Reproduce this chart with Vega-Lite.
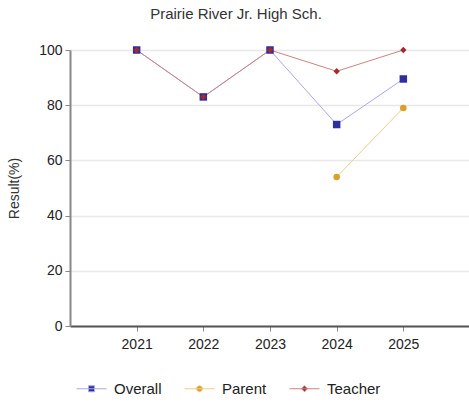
{
  "$schema": "https://vega.github.io/schema/vega-lite/v6.json",
  "width": 400,
  "height": 276,
  "autosize": "none",
  "padding": {"left": 70, "top": 50, "right": 0, "bottom": 76},
  "background": "white",
  "config": {
    "font": "Liberation Sans",
    "view": {"stroke": null}
  },
  "title": {
    "text": "Prairie River Jr. High Sch.",
    "fontSize": 15,
    "fontWeight": "normal",
    "color": "#333333",
    "anchor": "middle",
    "dx": -34,
    "offset": 21
  },
  "data": {
    "values": [
      {"year": 2021, "series": "Overall", "value": 100},
      {"year": 2022, "series": "Overall", "value": 83},
      {"year": 2023, "series": "Overall", "value": 100},
      {"year": 2024, "series": "Overall", "value": 73},
      {"year": 2025, "series": "Overall", "value": 89.5},
      {"year": 2024, "series": "Parent", "value": 54},
      {"year": 2025, "series": "Parent", "value": 79},
      {"year": 2021, "series": "Teacher", "value": 100},
      {"year": 2022, "series": "Teacher", "value": 83},
      {"year": 2023, "series": "Teacher", "value": 100},
      {"year": 2024, "series": "Teacher", "value": 92.3},
      {"year": 2025, "series": "Teacher", "value": 100}
    ]
  },
  "encoding": {
    "x": {
      "field": "year",
      "type": "quantitative",
      "scale": {"domain": [2020, 2026], "nice": false, "zero": false},
      "axis": {
        "values": [2021, 2022, 2023, 2024, 2025],
        "format": "d",
        "title": null,
        "grid": false,
        "domainColor": "#555555",
        "domainWidth": 2,
        "tickColor": "#888888",
        "tickSize": 5,
        "labelFontSize": 14,
        "labelColor": "#222222",
        "labelPadding": 6
      }
    },
    "y": {
      "field": "value",
      "type": "quantitative",
      "scale": {"domain": [0, 100], "nice": false},
      "axis": {
        "values": [0, 20, 40, 60, 80, 100],
        "title": "Result(%)",
        "titleFontSize": 14,
        "titleFontWeight": "normal",
        "titleColor": "#333333",
        "titlePadding": 17,
        "grid": true,
        "gridColor": "#e8e8e8",
        "gridWidth": 1.5,
        "domainColor": "#888888",
        "domainWidth": 2,
        "tickColor": "#888888",
        "tickSize": 5,
        "labelFontSize": 14,
        "labelColor": "#222222",
        "labelPadding": 3
      }
    }
  },
  "layer": [
    {
      "mark": {"type": "line", "strokeWidth": 1},
      "encoding": {
        "stroke": {
          "field": "series",
          "type": "nominal",
          "scale": {
            "domain": ["Overall", "Parent", "Teacher"],
            "range": ["#a8a8e6", "#f0cc88", "#c98585"]
          },
          "legend": {
            "title": null,
            "orient": "none",
            "legendX": 6,
            "legendY": 323,
            "direction": "horizontal",
            "columnPadding": 20,
            "labelOffset": 7,
            "labelFontSize": 15,
            "labelColor": "#222222",
            "symbolSize": 900,
            "symbolType": "M-1,0H1M-0.2,-0.2H0.2V0.2H-0.2Z",
            "symbolStrokeWidth": 1,
            "encode": {
              "symbols": {
                "update": {
                  "shape": {"signal": "datum.value === 'Overall' ? 'M-1,0H1M-0.2,-0.2H0.2V0.2H-0.2Z' : datum.value === 'Parent' ? 'M-1,0H1M0.2,0A0.2,0.2,0,1,1,-0.2,0A0.2,0.2,0,1,1,0.2,0Z' : 'M-1,0H1M0,-0.2L0.2,0L0,0.2L-0.2,0Z'"},
                  "fill": {"signal": "datum.value === 'Overall' ? '#2e2e9e' : datum.value === 'Parent' ? '#d9a12a' : '#a52a2a'"}
                }
              }
            }
          }
        }
      }
    },
    {
      "transform": [{"filter": "datum.series === 'Overall'"}],
      "mark": {"type": "point", "shape": "square", "size": 56, "filled": true, "opacity": 1, "strokeWidth": 0, "fill": "#2e2e9e"}
    },
    {
      "transform": [{"filter": "datum.series === 'Parent'"}],
      "mark": {"type": "point", "shape": "circle", "size": 44, "filled": true, "opacity": 1, "strokeWidth": 0, "fill": "#d9a12a"}
    },
    {
      "transform": [{"filter": "datum.series === 'Teacher'"}],
      "mark": {"type": "point", "shape": "diamond", "size": 40, "filled": true, "opacity": 1, "strokeWidth": 0, "fill": "#a52a2a"}
    }
  ]
}
